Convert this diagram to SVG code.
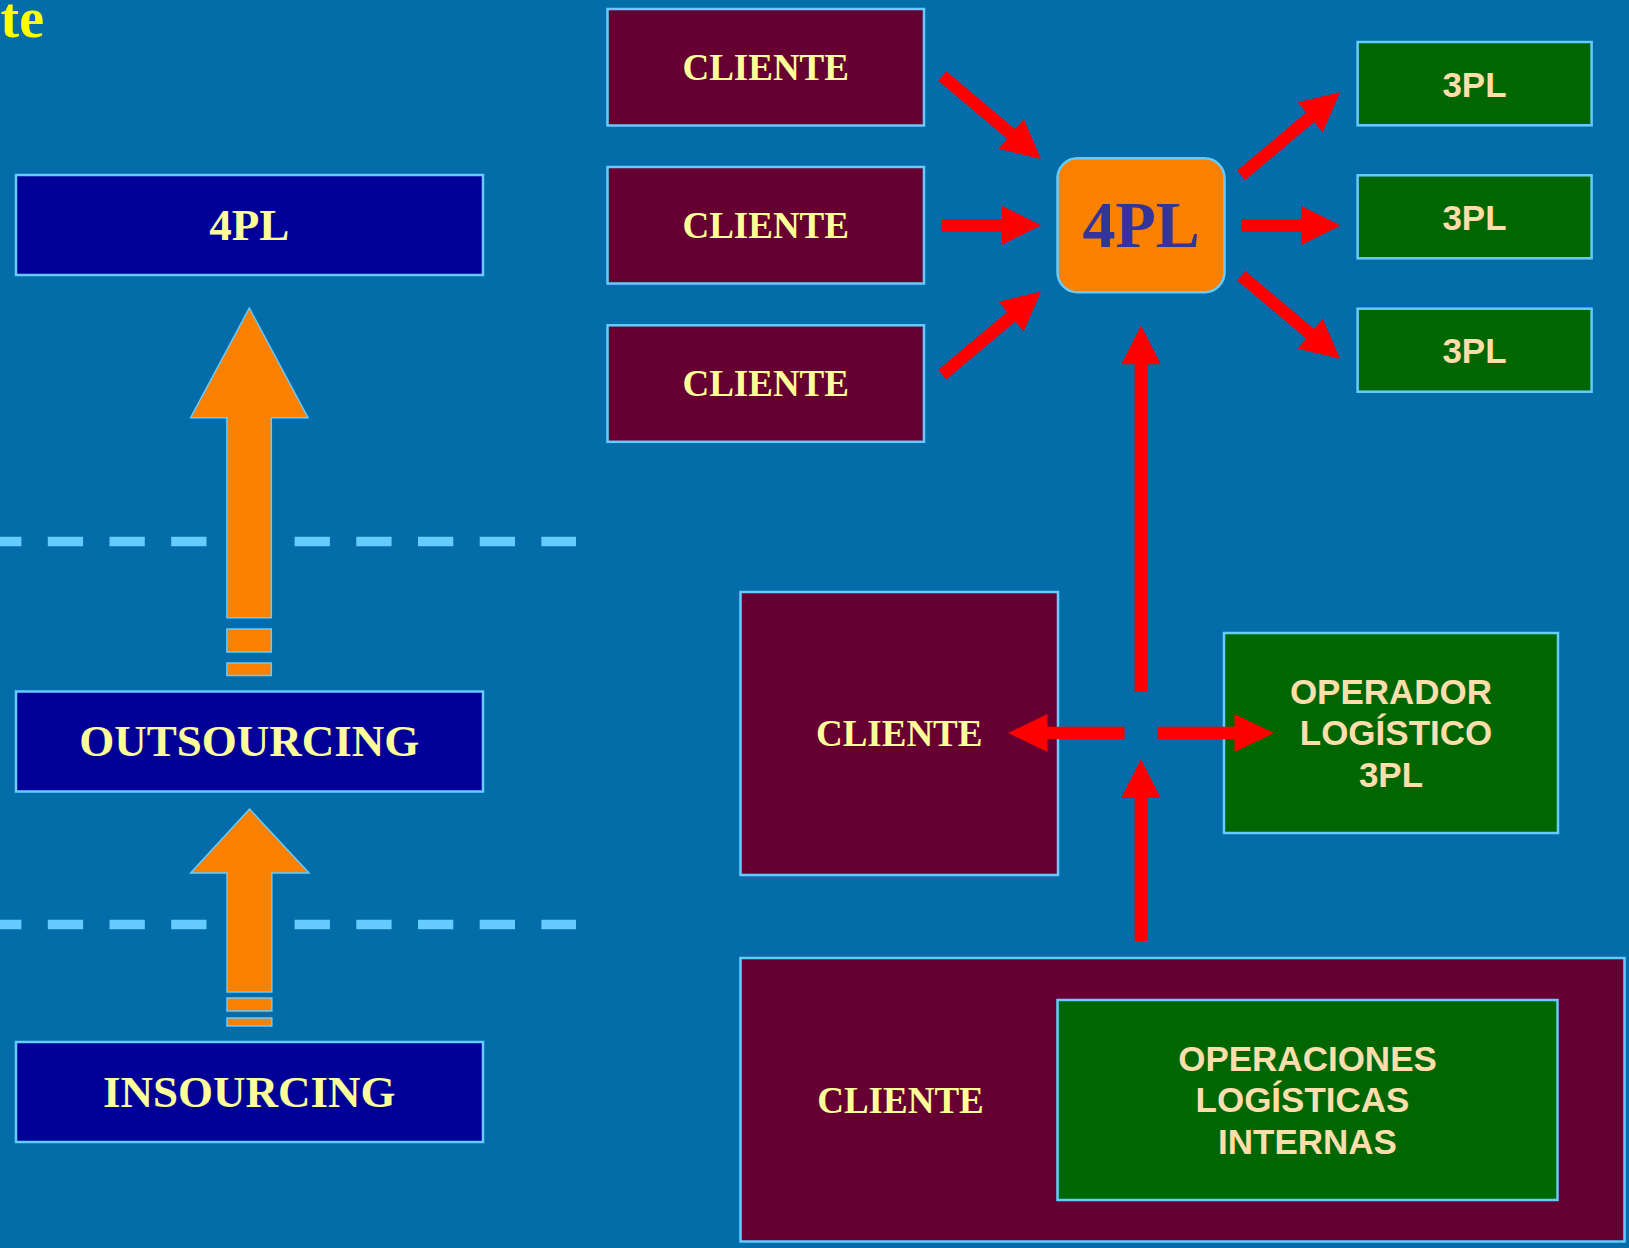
<svg xmlns="http://www.w3.org/2000/svg" width="1629" height="1248" viewBox="0 0 1629 1248">
<style>
.box{stroke:#66CCFF;stroke-width:2.5}
.blue{fill:#000099}
.maroon{fill:#660033}
.green{fill:#006600}
.serif{font-family:"Liberation Serif","Times New Roman",serif;font-weight:bold;fill:#FFFF99;text-anchor:middle}
.sans{font-family:"Liberation Sans",Arial,sans-serif;font-weight:bold;fill:#FFDEAD;text-anchor:middle;font-size:35px}
.red{fill:#FF0000}
.orange{fill:#FA8000;stroke:#66CCFF;stroke-width:1.5}
.dash{stroke:#66CCFF;stroke-width:9.5;stroke-dasharray:35.3 26.4;fill:none}
</style>
<rect width="1629" height="1248" fill="#036CA9"/>
<text x="44" y="37" font-family="Liberation Serif, serif" font-weight="bold" font-size="56" fill="#FFFF00" text-anchor="end">te</text>

<g id="dashes">
<line class="dash" x1="-13.9" y1="541.5" x2="576" y2="541.5"/>
<line class="dash" x1="-13.9" y1="924.5" x2="576" y2="924.5"/>
</g>

<g id="orange-arrows">
<path class="orange" d="M249.3,308 L308,417.7 H271.3 V617.7 H226.9 V417.7 H190.6 Z"/>
<rect class="orange" x="226.9" y="629" width="44.4" height="23"/>
<rect class="orange" x="226.9" y="663" width="44.4" height="12.5"/>
<path class="orange" d="M249.5,809 L309,873 H271.8 V992 H227 V873 H190.6 Z"/>
<rect class="orange" x="227" y="998" width="44.8" height="13"/>
<rect class="orange" x="227" y="1018" width="44.8" height="8"/>
</g>

<g id="n-4pl-left">
<rect class="box blue" x="16" y="175" width="467" height="100"/>
<text class="serif" x="249.3" y="240" font-size="45">4PL</text>
</g>
<g id="n-outsourcing">
<rect class="box blue" x="16" y="691.5" width="467" height="100"/>
<text class="serif" x="249.3" y="756" font-size="45">OUTSOURCING</text>
</g>
<g id="n-insourcing">
<rect class="box blue" x="16" y="1042" width="467" height="100"/>
<text class="serif" x="249.3" y="1106.5" font-size="45">INSOURCING</text>
</g>

<g id="n-cliente-1">
<rect class="box maroon" x="607.5" y="9" width="316.5" height="116.5"/>
<text class="serif" x="765.7" y="80" font-size="37">CLIENTE</text>
</g>
<g id="n-cliente-2">
<rect class="box maroon" x="607.5" y="167" width="316.5" height="116.5"/>
<text class="serif" x="765.7" y="237.7" font-size="37">CLIENTE</text>
</g>
<g id="n-cliente-3">
<rect class="box maroon" x="607.5" y="325.3" width="316.5" height="116.5"/>
<text class="serif" x="765.7" y="396" font-size="37">CLIENTE</text>
</g>

<g id="n-4pl">
<rect class="box" fill="#FA8000" x="1057.5" y="158.3" width="167" height="134" rx="20" ry="20"/>
<text x="1141.2" y="247" font-family="Liberation Serif, serif" font-weight="bold" font-size="66" fill="#333399" text-anchor="middle">4PL</text>
</g>

<g id="n-3pl-1">
<rect class="box green" x="1357.6" y="42" width="234" height="83.3"/>
<text class="sans" x="1474.5" y="96.7">3PL</text>
</g>
<g id="n-3pl-2">
<rect class="box green" x="1357.6" y="175.3" width="234" height="83"/>
<text class="sans" x="1474.5" y="230">3PL</text>
</g>
<g id="n-3pl-3">
<rect class="box green" x="1357.6" y="308.7" width="234" height="83"/>
<text class="sans" x="1474.5" y="363.3">3PL</text>
</g>

<g id="n-cliente-mid">
<rect class="box maroon" x="740.5" y="592" width="317.5" height="283"/>
<text class="serif" x="899.2" y="745.5" font-size="37">CLIENTE</text>
</g>

<g id="n-operador">
<rect class="box green" x="1224" y="633" width="334" height="200"/>
<text class="sans" x="1391" y="703.6">OPERADOR</text>
<text class="sans" x="1396" y="745.4">LOGÍSTICO</text>
<text class="sans" x="1391" y="787.1">3PL</text>
</g>

<g id="n-cliente-bottom">
<rect class="box maroon" x="740.5" y="958" width="884" height="283.5"/>
<text class="serif" x="900.5" y="1112.5" font-size="37">CLIENTE</text>
</g>
<g id="n-operaciones">
<rect class="box green" x="1057.5" y="1000" width="500" height="200"/>
<text class="sans" x="1307.5" y="1070.7">OPERACIONES</text>
<text class="sans" x="1302.5" y="1112.3">LOGÍSTICAS</text>
<text class="sans" x="1307.5" y="1154">INTERNAS</text>
</g>

<g id="connectors">
<path class="red" transform="translate(942.3,76) rotate(40.06)" d="M0,-6.25 H90 V-19.5 L129,0 L90,19.5 V6.25 H0 Z"/>
<path class="red" transform="translate(941,225.3)" d="M0,-6.25 H61 V-19.5 L100,0 L61,19.5 V6.25 H0 Z"/>
<path class="red" transform="translate(942.3,374.6) rotate(-40.06)" d="M0,-6.25 H90 V-19.5 L129,0 L90,19.5 V6.25 H0 Z"/>
<path class="red" transform="translate(1241.3,175.2) rotate(-40.06)" d="M0,-6.25 H90 V-19.5 L129,0 L90,19.5 V6.25 H0 Z"/>
<path class="red" transform="translate(1241.3,225.5)" d="M0,-6.25 H60 V-19.5 L99.3,0 L60,19.5 V6.25 H0 Z"/>
<path class="red" transform="translate(1241.3,275.8) rotate(40.06)" d="M0,-6.25 H90 V-19.5 L129,0 L90,19.5 V6.25 H0 Z"/>
<path class="red" transform="translate(1141,691.8) rotate(-90)" d="M0,-6.4 H327.5 V-19.75 L366.3,0 L327.5,19.75 V6.4 H0 Z"/>
<path class="red" transform="translate(1124.5,733) rotate(180)" d="M0,-6.25 H77 V-19.1 L116.5,0 L77,19.1 V6.25 H0 Z"/>
<path class="red" transform="translate(1157.5,733)" d="M0,-6.25 H77 V-19.1 L116.5,0 L77,19.1 V6.25 H0 Z"/>
<path class="red" transform="translate(1141,941) rotate(-90)" d="M0,-6.4 H143 V-19.75 L181.7,0 L143,19.75 V6.4 H0 Z"/>
</g>
</svg>
